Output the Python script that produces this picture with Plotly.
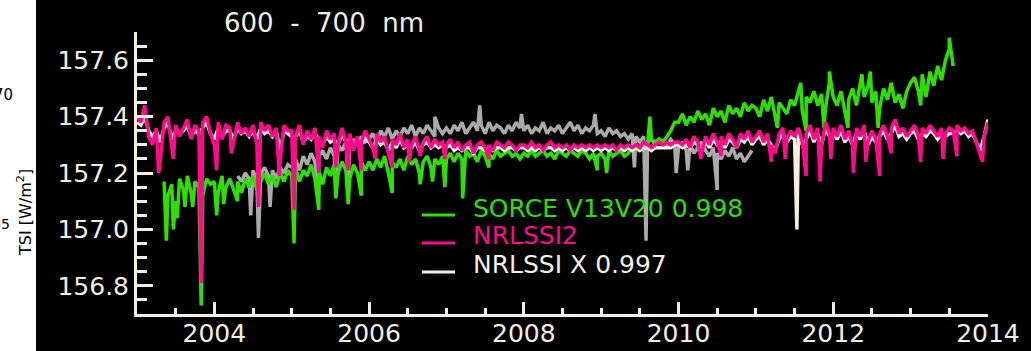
import plotly.graph_objects as go

# ---------------- data ----------------
STEP = 0.05

# NRLSSI2 (pink), regular samples from 2003.00 every 0.05 yr
pink_start = 2003.00
pink_vals = [
    157.40, 157.38, 157.44, 157.33, 157.30, 157.36, 157.24, 157.38, 157.40, 157.29,
    157.37, 157.33, 157.36, 157.39, 157.32, 157.37, 157.35, 157.38, 157.40, 157.34,  # 2003
    157.30, 157.38, 157.32, 157.37, 157.36, 157.31, 157.38, 157.34, 157.36, 157.33,
    157.37, 157.30, 157.38, 157.35, 157.37, 157.33, 157.36, 157.24, 157.37, 157.35,  # 2004
    157.35, 157.33, 157.37, 157.30, 157.35, 157.32, 157.36, 157.33, 157.29, 157.35,
    157.32, 157.34, 157.30, 157.36, 157.31, 157.34, 157.28, 157.33, 157.31, 157.35,  # 2005
    157.32, 157.29, 157.34, 157.31, 157.33, 157.27, 157.32, 157.30, 157.34, 157.29,
    157.32, 157.30, 157.33, 157.28, 157.31, 157.33, 157.29, 157.32, 157.30, 157.31,  # 2006
    157.30, 157.32, 157.29, 157.31, 157.28, 157.30, 157.31, 157.27, 157.30, 157.31,
    157.29, 157.30, 157.28, 157.31, 157.30, 157.29, 157.31, 157.30, 157.28, 157.30,  # 2007
    157.30, 157.29, 157.31, 157.29, 157.30, 157.28, 157.30, 157.31, 157.29, 157.30,
    157.29, 157.30, 157.28, 157.30, 157.29, 157.30, 157.29, 157.30, 157.29, 157.30,  # 2008
    157.29, 157.30, 157.29, 157.30, 157.28, 157.30, 157.29, 157.30, 157.29, 157.30,
    157.29, 157.31, 157.30, 157.29, 157.30, 157.31, 157.30, 157.31, 157.30, 157.31,  # 2009
    157.31, 157.30, 157.32, 157.29, 157.33, 157.31, 157.27, 157.33, 157.30, 157.34,
    157.31, 157.33, 157.30, 157.34, 157.32, 157.29, 157.34, 157.32, 157.35, 157.31,  # 2010
    157.33, 157.35, 157.31, 157.34, 157.30, 157.27, 157.34, 157.36, 157.32, 157.35,
    157.33, 157.36, 157.31, 157.34, 157.37, 157.32, 157.36, 157.30, 157.38, 157.34,  # 2011
    157.36, 157.33, 157.37, 157.32, 157.35, 157.30, 157.36, 157.33, 157.37, 157.31,
    157.35, 157.32, 157.34, 157.37, 157.33, 157.36, 157.39, 157.34, 157.36, 157.33,  # 2012
    157.35, 157.37, 157.33, 157.36, 157.34, 157.37, 157.35, 157.33, 157.36, 157.34,
    157.36, 157.35, 157.37, 157.35, 157.36, 157.34, 157.35, 157.31, 157.27, 157.33,  # 2013
    157.38,                                                                          # 2014.00
]
pink_spike_dates = [2003.28, 2003.47, 2003.83, 2004.03, 2004.22, 2004.57, 2004.84, 2005.03,
                    2005.35, 2005.57, 2005.73, 2005.90, 2006.08, 2006.30, 2006.52, 2006.66,
                    2006.98, 2007.55, 2010.29, 2010.55, 2011.20, 2011.38, 2011.65, 2011.83,
                    2011.97, 2012.26, 2012.42, 2012.60, 2012.75, 2013.13, 2013.42, 2013.60,
                    2013.93]
pink_spike_vals = [157.20, 157.25, 156.81, 157.21, 157.27, 157.08, 157.19, 157.07,
                   157.20, 157.22, 157.21, 157.21, 157.25, 157.22, 157.24, 157.26,
                   157.25, 157.25, 157.25, 157.26, 157.24, 157.25, 157.19, 157.17,
                   157.25, 157.20, 157.24, 157.19, 157.27, 157.24, 157.25, 157.26,
                   157.24]

# NRLSSI x 0.997 (cream), regular samples from 2003.00
white_start = 2003.00
white_vals = [
    157.38, 157.37, 157.40, 157.35, 157.33, 157.35, 157.31, 157.36, 157.38, 157.32,
    157.35, 157.34, 157.35, 157.37, 157.33, 157.35, 157.34, 157.36, 157.38, 157.34,  # 2003
    157.32, 157.36, 157.33, 157.35, 157.35, 157.32, 157.36, 157.34, 157.35, 157.33,
    157.35, 157.32, 157.36, 157.34, 157.35, 157.33, 157.35, 157.28, 157.35, 157.34,  # 2004
    157.33, 157.33, 157.35, 157.31, 157.33, 157.32, 157.34, 157.32, 157.30, 157.33,
    157.31, 157.32, 157.30, 157.34, 157.31, 157.32, 157.29, 157.32, 157.30, 157.33,  # 2005
    157.31, 157.29, 157.32, 157.30, 157.31, 157.28, 157.31, 157.29, 157.32, 157.29,
    157.30, 157.29, 157.31, 157.28, 157.30, 157.31, 157.29, 157.30, 157.29, 157.30,  # 2006
    157.29, 157.30, 157.28, 157.29, 157.28, 157.29, 157.29, 157.27, 157.29, 157.29,
    157.28, 157.29, 157.28, 157.29, 157.29, 157.28, 157.29, 157.29, 157.28, 157.29,  # 2007
    157.29, 157.28, 157.29, 157.28, 157.29, 157.28, 157.29, 157.29, 157.28, 157.29,
    157.28, 157.29, 157.28, 157.29, 157.28, 157.29, 157.28, 157.29, 157.28, 157.29,  # 2008
    157.28, 157.29, 157.28, 157.29, 157.28, 157.29, 157.28, 157.29, 157.28, 157.29,
    157.28, 157.29, 157.29, 157.28, 157.29, 157.29, 157.29, 157.29, 157.29, 157.30,  # 2009
    157.30, 157.29, 157.30, 157.29, 157.31, 157.30, 157.28, 157.31, 157.29, 157.32,
    157.30, 157.31, 157.29, 157.32, 157.31, 157.29, 157.32, 157.31, 157.33, 157.30,  # 2010
    157.32, 157.33, 157.30, 157.32, 157.30, 157.28, 157.32, 157.34, 157.31, 157.33,
    157.32, 157.34, 157.30, 157.32, 157.35, 157.31, 157.34, 157.30, 157.36, 157.33,  # 2011
    157.34, 157.32, 157.35, 157.31, 157.33, 157.30, 157.34, 157.32, 157.35, 157.30,
    157.33, 157.31, 157.33, 157.35, 157.32, 157.34, 157.37, 157.33, 157.34, 157.32,  # 2012
    157.34, 157.35, 157.32, 157.34, 157.33, 157.35, 157.34, 157.32, 157.34, 157.33,
    157.34, 157.34, 157.35, 157.34, 157.35, 157.33, 157.34, 157.31, 157.28, 157.33,  # 2013
    157.39,                                                                          # 2014.00
]
white_spike_dates = [2011.53]
white_spike_vals = [157.00]

# SORCE V13V20 x 0.998 (green), regular samples from 2003.35
green_start = 2003.35
green_vals = [
    157.17, 157.12, 157.16, 157.10, 157.18, 157.14, 157.19, 157.13, 157.17, 157.15,
    157.12, 157.18, 157.16,                                                          # 2003
    157.17, 157.13, 157.19, 157.15, 157.18, 157.14, 157.17, 157.13, 157.18, 157.15,
    157.19, 157.14, 157.17, 157.20, 157.16, 157.19, 157.15, 157.20, 157.17, 157.21,  # 2004
    157.19, 157.22, 157.17, 157.21, 157.19, 157.23, 157.18, 157.21, 157.16, 157.22,
    157.19, 157.23, 157.20, 157.24, 157.21, 157.18, 157.23, 157.20, 157.24, 157.21,  # 2005
    157.24, 157.21, 157.25, 157.22, 157.26, 157.20, 157.24, 157.22, 157.25, 157.21,
    157.26, 157.23, 157.25, 157.20, 157.24, 157.26, 157.22, 157.25, 157.23, 157.26,  # 2006
    157.25, 157.27, 157.24, 157.27, 157.25, 157.28, 157.26, 157.27, 157.24, 157.28,
    157.26, 157.27, 157.25, 157.28, 157.26, 157.27, 157.28, 157.26, 157.27, 157.25,  # 2007
    157.27, 157.26, 157.28, 157.26, 157.27, 157.28, 157.26, 157.27, 157.25, 157.28,
    157.27, 157.26, 157.28, 157.27, 157.26, 157.28, 157.27, 157.25, 157.27, 157.26,  # 2008
    157.27, 157.25, 157.28, 157.26, 157.27, 157.28, 157.26, 157.27, 157.29, 157.28,
    157.29, 157.31, 157.30, 157.32, 157.31, 157.32, 157.31, 157.33, 157.35, 157.38,  # 2009
    157.38, 157.41, 157.37, 157.40, 157.38, 157.42, 157.39, 157.41, 157.37, 157.43,
    157.40, 157.42, 157.38, 157.44, 157.41, 157.43, 157.40, 157.45, 157.42, 157.44,  # 2010
    157.43, 157.40, 157.46, 157.42, 157.47, 157.40, 157.45, 157.43, 157.41, 157.46,
    157.44, 157.49, 157.42, 157.47, 157.45, 157.49, 157.44, 157.48, 157.43, 157.52,  # 2011
    157.47, 157.44, 157.49, 157.42, 157.46, 157.50, 157.44, 157.53, 157.47, 157.51,
    157.45, 157.49, 157.43, 157.50, 157.46, 157.52, 157.45, 157.48, 157.43, 157.49,  # 2012
    157.52, 157.54, 157.49, 157.55, 157.47, 157.56, 157.51, 157.58, 157.53, 157.60,
    157.64, 157.58,                                                                  # 2013
]
green_spike_dates = [2003.38, 2003.47, 2003.52, 2003.62, 2003.72, 2003.83, 2004.03, 2004.12,
                     2004.30, 2005.03, 2005.35, 2005.57, 2005.73, 2005.90, 2006.30, 2006.66,
                     2006.82, 2006.98, 2007.21, 2007.55, 2008.95, 2009.07, 2009.63, 2011.28,
                     2011.58, 2011.65, 2011.88, 2011.95, 2012.19, 2012.37, 2012.48, 2012.58,
                     2013.13, 2013.50]
green_spike_vals = [156.96, 157.00, 157.04, 157.08, 157.08, 156.73, 157.05, 157.09,
                    157.10, 156.95, 157.07, 157.11, 157.09, 157.12, 157.13, 157.16,
                    157.17, 157.15, 157.11, 157.22, 157.21, 157.20, 157.40, 157.36,
                    157.52, 157.35, 157.36, 157.56, 157.36, 157.55, 157.56, 157.36,
                    157.44, 157.68]

# unlabelled grey series, regular samples from 2004.30
grey_start = 2004.30
grey_vals = [
    157.19, 157.17, 157.20, 157.18, 157.21, 157.17, 157.20, 157.22, 157.19, 157.21,
    157.18, 157.22, 157.20, 157.23,                                                  # 2004
    157.22, 157.25, 157.21, 157.26, 157.23, 157.27, 157.24, 157.26, 157.28, 157.25,
    157.29, 157.26, 157.30, 157.28, 157.31, 157.29, 157.32, 157.30, 157.33, 157.31,  # 2005
    157.32, 157.34, 157.31, 157.35, 157.33, 157.36, 157.32, 157.35, 157.33, 157.36,
    157.34, 157.37, 157.33, 157.36, 157.34, 157.37, 157.35, 157.33, 157.36, 157.34,  # 2006
    157.36, 157.34, 157.37, 157.35, 157.38, 157.34, 157.36, 157.38, 157.35, 157.37,
    157.34, 157.38, 157.35, 157.37, 157.36, 157.34, 157.37, 157.35, 157.38, 157.36,  # 2007
    157.35, 157.37, 157.34, 157.36, 157.35, 157.38, 157.34, 157.36, 157.35, 157.37,
    157.34, 157.36, 157.38, 157.35, 157.37, 157.34, 157.36, 157.35, 157.37, 157.34,  # 2008
    157.35, 157.33, 157.36, 157.34, 157.35, 157.33, 157.34, 157.32, 157.34, 157.33,
    157.31, 157.33, 157.31, 157.32, 157.30, 157.32, 157.31, 157.30, 157.32, 157.30,  # 2009
    157.29, 157.31, 157.28, 157.30, 157.27, 157.29, 157.31, 157.28, 157.26, 157.29,
    157.27, 157.25, 157.28, 157.26, 157.29, 157.25, 157.27, 157.24, 157.26, 157.28,  # 2010
]
grey_spike_dates = [2004.47, 2004.57, 2004.72, 2005.35, 2005.57, 2005.73, 2006.85, 2007.43,
                    2007.97, 2008.92, 2009.43, 2009.58, 2009.97, 2010.12, 2010.50]
grey_spike_vals = [157.05, 156.97, 157.08, 157.12, 157.15, 157.18, 157.40, 157.44,
                   157.41, 157.41, 157.22, 156.96, 157.20, 157.21, 157.14]

x_tick_vals = [2004, 2006, 2008, 2010, 2012, 2014]
x_tick_text = ["2004", "2006", "2008", "2010", "2012", "2014"]
y_tick_vals = [156.8, 157.0, 157.2, 157.4, 157.6]
y_tick_text = ["156.8", "157.0", "157.2", "157.4", "157.6"]

legend_names = ["SORCE V13V20 0.998", "NRLSSI2", "NRLSSI X 0.997"]

# ---------------- styles ----------------
GREEN = "#2ee000"
PINK = "#ff0a8a"
GREY = "#aaaaaa"
CREAM = "#f3efe3"
FONT = "DejaVu Sans"

W, H = 1031, 351
L, R, T, B = 137, 43, 32, 37
PW, PH = W - L - R, H - T - B


def px_x(px):
    return (px - L) / PW


def px_y(py):
    return (H - B - py) / PH


def merge(start, vals, sdates, svals):
    pts = [(round(start + i * STEP, 4), v) for i, v in enumerate(vals)]
    pts += list(zip(sdates, svals))
    pts.sort()
    return [p[0] for p in pts], [p[1] for p in pts]


fig = go.Figure()
for (start, vals, sd, sv, col) in [
    (grey_start, grey_vals, grey_spike_dates, grey_spike_vals, GREY),
    (green_start, green_vals, green_spike_dates, green_spike_vals, GREEN),
    (white_start, white_vals, white_spike_dates, white_spike_vals, CREAM),
    (pink_start, pink_vals, pink_spike_dates, pink_spike_vals, PINK),
]:
    xs, ys = merge(start, vals, sd, sv)
    fig.add_trace(go.Scatter(x=xs, y=ys, mode="lines",
                             line=dict(color=col, width=3.5),
                             showlegend=False, hoverinfo="skip"))

shapes = []
annotations = []

# left white strip (edge of neighbouring panel)
shapes.append(dict(type="rect", xref="paper", yref="paper",
                   x0=px_x(-5), x1=px_x(36), y0=px_y(H + 5), y1=px_y(-5),
                   fillcolor="white", line=dict(width=0), layer="above"))
annotations.append(dict(text="70", xref="paper", yref="paper", x=px_x(15), y=px_y(95),
                        xanchor="right", yanchor="middle", showarrow=False,
                        font=dict(family=FONT, size=15, color="black")))
annotations.append(dict(text="65", xref="paper", yref="paper", x=px_x(12), y=px_y(224),
                        xanchor="right", yanchor="middle", showarrow=False,
                        font=dict(family=FONT, size=14, color="black")))
annotations.append(dict(text="TSI [W/m<sup>2</sup>]", xref="paper", yref="paper",
                        x=px_x(24), y=px_y(213), textangle=-90,
                        xanchor="center", yanchor="middle", showarrow=False,
                        font=dict(family=FONT, size=16, color="black")))

# title
annotations.append(dict(text="600\u00a0\u00a0-\u00a0\u00a0700\u00a0\u00a0nm", xref="paper", yref="paper",
                        x=px_x(222), y=px_y(23), xanchor="left", yanchor="middle",
                        showarrow=False, font=dict(family=FONT, size=26, color=CREAM)))

# legend
leg_cols = [GREEN, PINK, CREAM]
leg_text_y = [208, 236, 264]
leg_line_y = [215, 243, 272]
for name, col, ty, ly in zip(legend_names, leg_cols, leg_text_y, leg_line_y):
    shapes.append(dict(type="line", xref="paper", yref="paper",
                       x0=px_x(422), x1=px_x(455), y0=px_y(ly), y1=px_y(ly),
                       line=dict(color=col, width=3)))
    annotations.append(dict(text=name, xref="paper", yref="paper",
                            x=px_x(471), y=px_y(ty), xanchor="left", yanchor="middle",
                            showarrow=False, font=dict(family=FONT, size=25, color=col)))

axis_common = dict(showline=True, linecolor=CREAM, linewidth=3, ticks="inside",
                   tickcolor=CREAM, tickwidth=2.5, showgrid=False, zeroline=False,
                   mirror=False, automargin=False,
                   tickfont=dict(family=FONT, size=25, color=CREAM))

fig.update_layout(
    width=W, height=H,
    margin=dict(l=L, r=R, t=T, b=B, pad=0, autoexpand=False),
    paper_bgcolor="black", plot_bgcolor="black",
    shapes=shapes, annotations=annotations,
    xaxis=dict(range=[2003, 2014.0005], tickvals=x_tick_vals, ticktext=x_tick_text,
               ticklen=12, ticklabelstandoff=-5,
               minor=dict(tickmode="linear", tick0=2003, dtick=0.5, ticklen=6,
                          tickwidth=2.5, tickcolor=CREAM, ticks="inside"),
               **axis_common),
    yaxis=dict(range=[156.70, 157.7005], tickvals=y_tick_vals, ticktext=y_tick_text,
               ticklen=16,
               minor=dict(tickmode="linear", tick0=156.7, dtick=0.05, ticklen=10,
                          tickwidth=2.5, tickcolor=CREAM, ticks="inside"),
               **axis_common),
)

fig.write_html("out.html")
